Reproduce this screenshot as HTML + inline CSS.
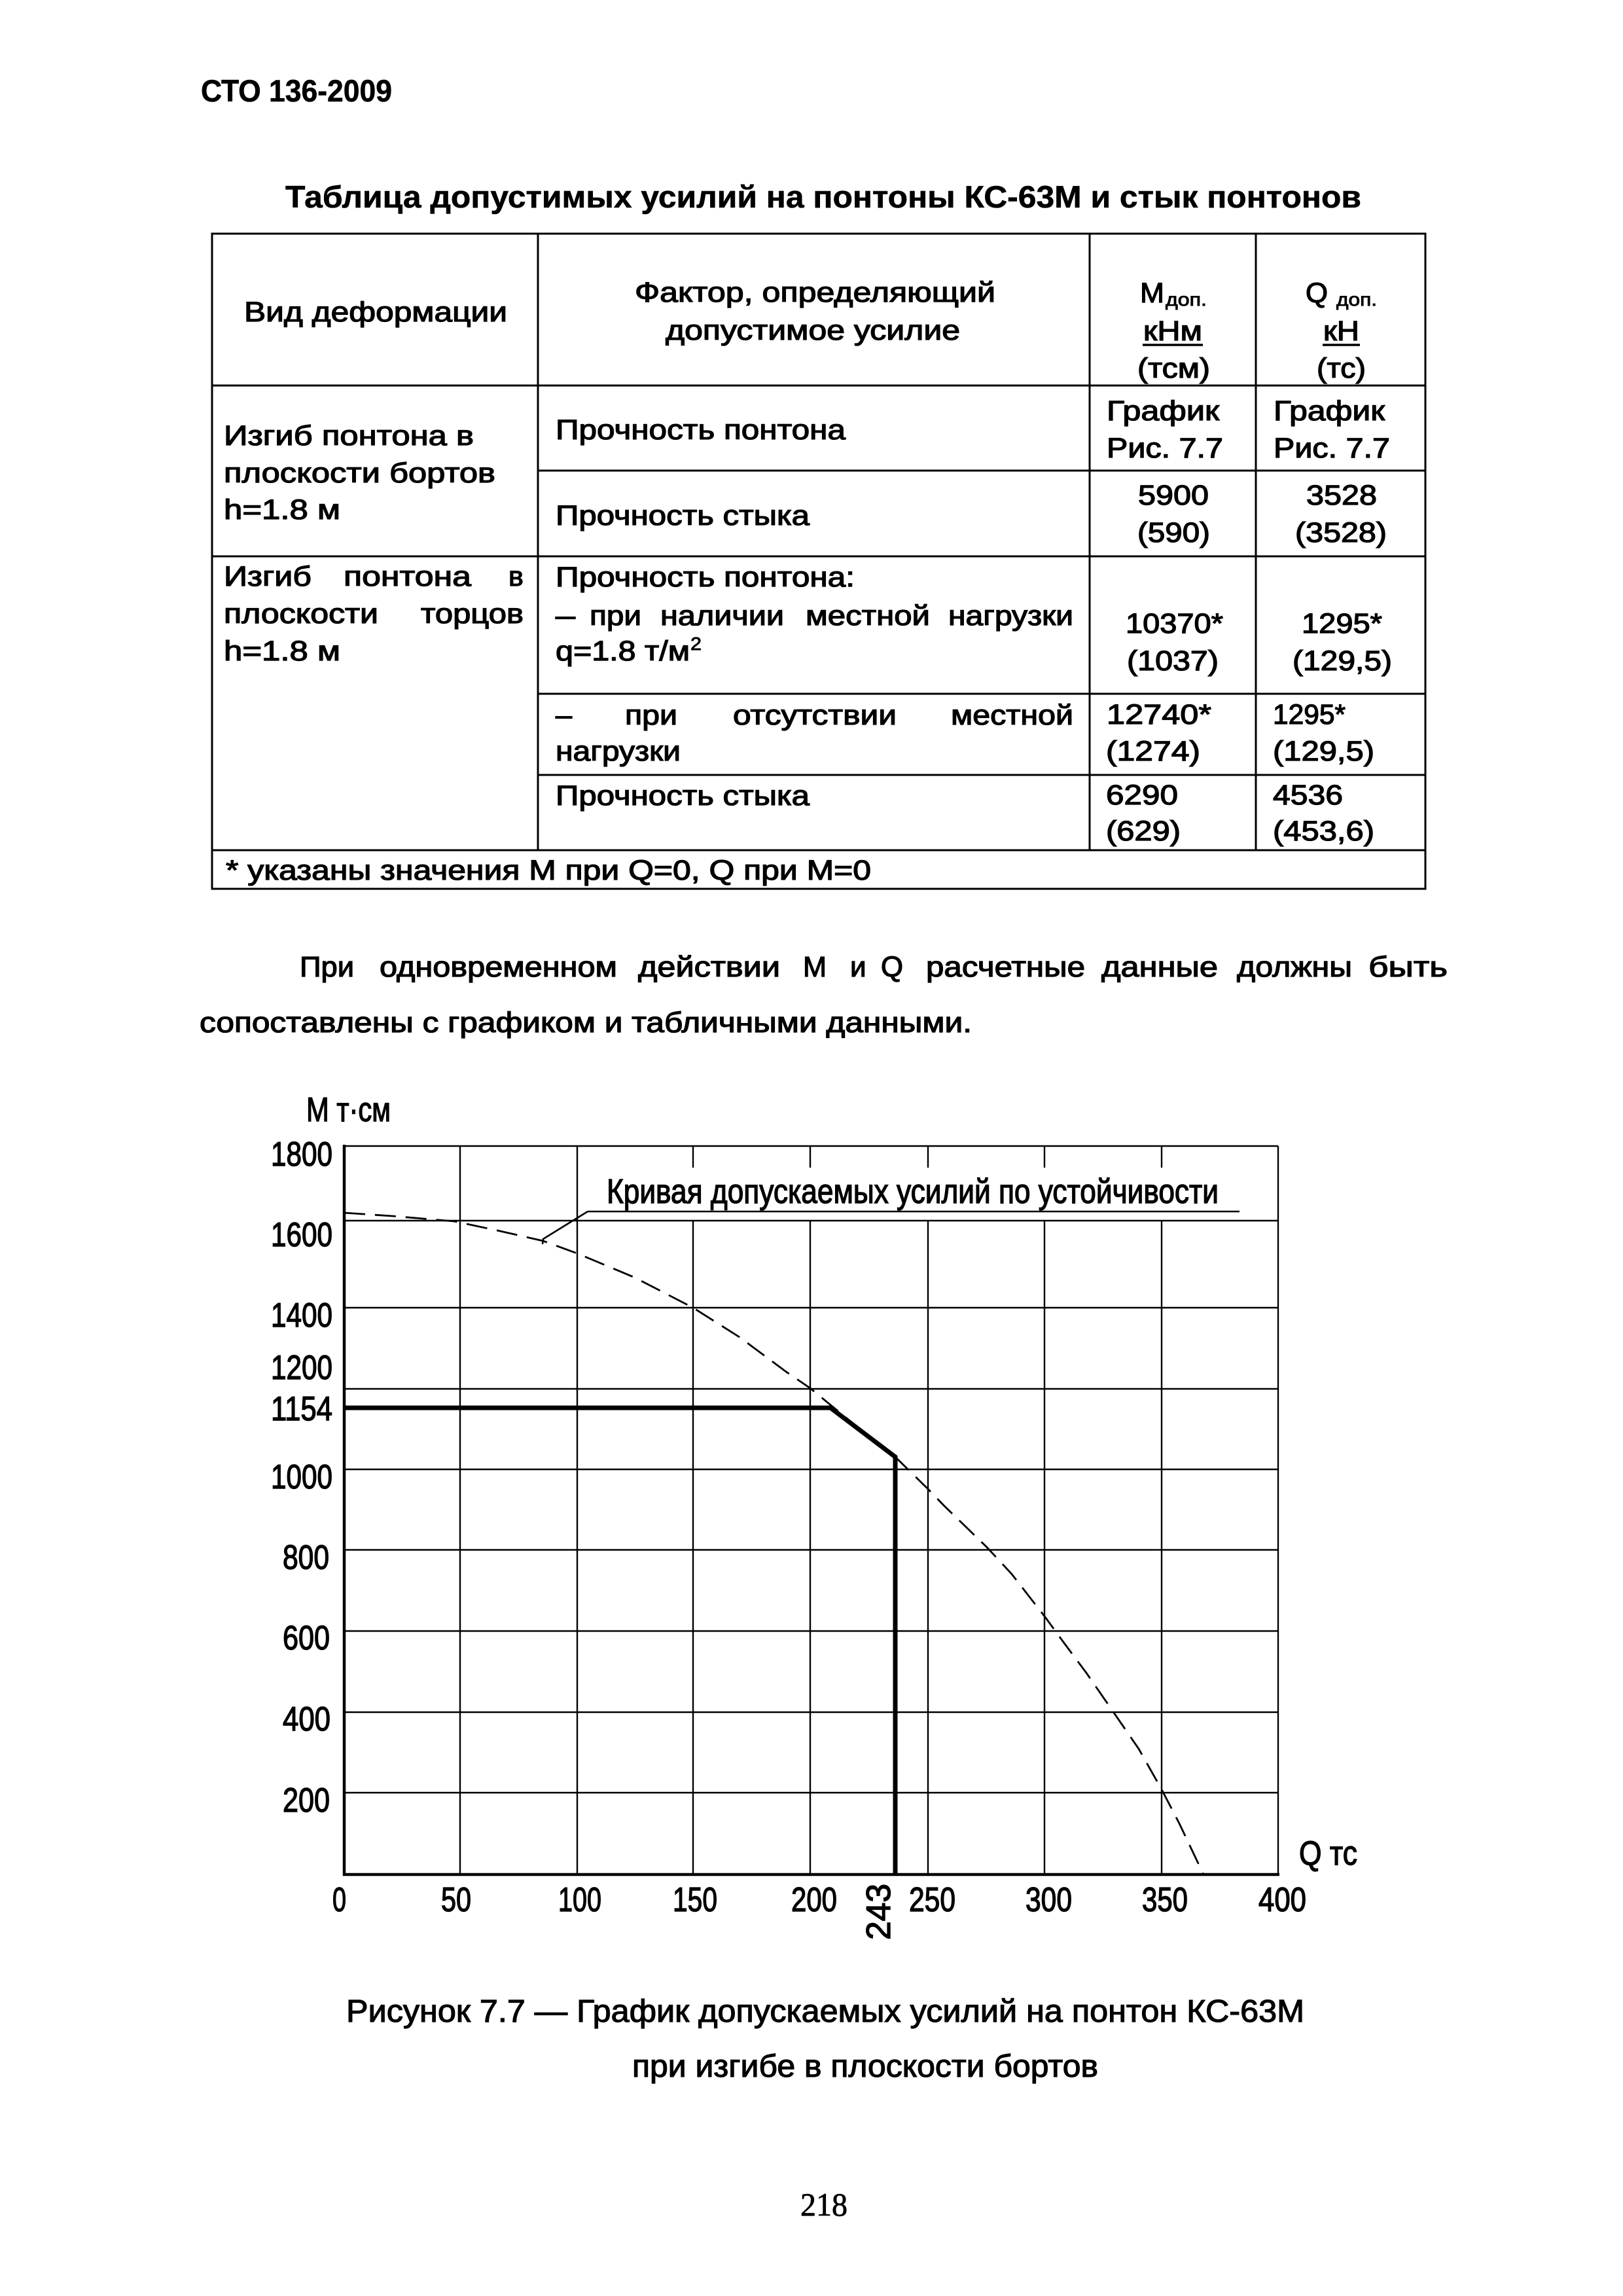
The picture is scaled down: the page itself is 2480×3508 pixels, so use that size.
<!DOCTYPE html>
<html>
<head>
<meta charset="utf-8">
<style>
html,body{margin:0;padding:0;background:#fff;}
svg{display:block;}
text{font-family:"Liberation Sans",Arial,sans-serif;fill:#000;}
.b{font-weight:bold;font-size:47px;stroke:#000;stroke-width:0.6px;}
.t{font-size:43px;stroke:#000;stroke-width:1.3px;}
.s{font-size:28px;stroke:#000;stroke-width:0.9px;}
.sup{font-size:28px;stroke:#000;stroke-width:0.9px;}
.p{font-size:44px;stroke:#000;stroke-width:1.3px;}
.c{font-size:52px;stroke:#000;stroke-width:1.4px;}
.cap{font-size:48px;stroke:#000;stroke-width:1.2px;}
.pg{font-family:"Liberation Serif","Times New Roman",serif;font-size:50px;stroke:#000;stroke-width:0.8px;}
</style>
</head>
<body>
<svg xmlns="http://www.w3.org/2000/svg" width="2480" height="3508" viewBox="0 0 2480 3508">
<rect x="0" y="0" width="2480" height="3508" fill="#fff"/>

<!-- Header -->
<text class="b" x="307" y="155" textLength="292" lengthAdjust="spacingAndGlyphs">СТО 136-2009</text>
<text class="b" x="436" y="317" textLength="1644" lengthAdjust="spacingAndGlyphs">Таблица допустимых усилий на понтоны КС-63М и стык понтонов</text>

<!-- Table lines -->
<g stroke="#000" stroke-width="3" fill="none">
  <rect x="324" y="357" width="1854" height="1001"/>
  <line x1="822" y1="357" x2="822" y2="1299"/>
  <line x1="1665" y1="357" x2="1665" y2="1299"/>
  <line x1="1919" y1="357" x2="1919" y2="1299"/>
  <line x1="324" y1="589" x2="2178" y2="589"/>
  <line x1="822" y1="719" x2="2178" y2="719"/>
  <line x1="324" y1="850" x2="2178" y2="850"/>
  <line x1="822" y1="1060" x2="2178" y2="1060"/>
  <line x1="822" y1="1184" x2="2178" y2="1184"/>
  <line x1="324" y1="1299" x2="2178" y2="1299"/>
</g>

<!-- Table header text -->
<text class="t" x="373" y="491" textLength="402" lengthAdjust="spacingAndGlyphs">Вид деформации</text>
<text class="t" x="970" y="461" textLength="551" lengthAdjust="spacingAndGlyphs">Фактор, определяющий</text>
<text class="t" x="1017" y="519" textLength="450" lengthAdjust="spacingAndGlyphs">допустимое усилие</text>

<text class="t" x="1742" y="462" textLength="37" lengthAdjust="spacingAndGlyphs">М</text>
<text class="s" x="1781" y="467" textLength="63" lengthAdjust="spacingAndGlyphs">доп.</text>
<text class="t" x="1747" y="520" textLength="90" lengthAdjust="spacingAndGlyphs">кНм</text>
<line x1="1746" y1="527" x2="1838" y2="527" stroke="#000" stroke-width="3.5"/>
<text class="t" x="1738" y="577" textLength="111" lengthAdjust="spacingAndGlyphs">(тсм)</text>

<text class="t" x="1995" y="462" textLength="34" lengthAdjust="spacingAndGlyphs">Q</text>
<text class="s" x="2042" y="467" textLength="62" lengthAdjust="spacingAndGlyphs">доп.</text>
<text class="t" x="2022" y="520" textLength="55" lengthAdjust="spacingAndGlyphs">кН</text>
<line x1="2021" y1="527" x2="2078" y2="527" stroke="#000" stroke-width="3.5"/>
<text class="t" x="2012" y="577" textLength="75" lengthAdjust="spacingAndGlyphs">(тс)</text>

<!-- Row 1 col1 -->
<text class="t" x="342" y="680" textLength="382" lengthAdjust="spacingAndGlyphs">Изгиб понтона в</text>
<text class="t" x="342" y="737" textLength="415" lengthAdjust="spacingAndGlyphs">плоскости бортов</text>
<text class="t" x="342" y="793" textLength="178" lengthAdjust="spacingAndGlyphs">h=1.8 м</text>

<!-- Row 1a -->
<text class="t" x="849" y="671" textLength="443" lengthAdjust="spacingAndGlyphs">Прочность понтона</text>
<text class="t" x="1691" y="642" textLength="172" lengthAdjust="spacingAndGlyphs">График</text>
<text class="t" x="1691" y="699" textLength="178" lengthAdjust="spacingAndGlyphs">Рис. 7.7</text>
<text class="t" x="1946" y="642" textLength="170" lengthAdjust="spacingAndGlyphs">График</text>
<text class="t" x="1946" y="699" textLength="178" lengthAdjust="spacingAndGlyphs">Рис. 7.7</text>

<!-- Row 1b -->
<text class="t" x="849" y="802" textLength="388" lengthAdjust="spacingAndGlyphs">Прочность стыка</text>
<text class="t" x="1739" y="771" textLength="108" lengthAdjust="spacingAndGlyphs">5900</text>
<text class="t" x="1738" y="828" textLength="111" lengthAdjust="spacingAndGlyphs">(590)</text>
<text class="t" x="1996" y="771" textLength="108" lengthAdjust="spacingAndGlyphs">3528</text>
<text class="t" x="1979" y="828" textLength="140" lengthAdjust="spacingAndGlyphs">(3528)</text>

<!-- Row 2 col1 -->
<text class="t" x="342" y="895" textLength="134" lengthAdjust="spacingAndGlyphs">Изгиб</text>
<text class="t" x="525" y="895" textLength="195" lengthAdjust="spacingAndGlyphs">понтона</text>
<text class="t" x="777" y="895">в</text>
<text class="t" x="342" y="952" textLength="236" lengthAdjust="spacingAndGlyphs">плоскости</text>
<text class="t" x="643" y="952" textLength="157" lengthAdjust="spacingAndGlyphs">торцов</text>
<text class="t" x="342" y="1009" textLength="178" lengthAdjust="spacingAndGlyphs">h=1.8 м</text>

<!-- Row 2a col2 -->
<text class="t" x="849" y="896" textLength="457" lengthAdjust="spacingAndGlyphs">Прочность понтона:</text>
<text class="t" x="849" y="955" textLength="30" lengthAdjust="spacingAndGlyphs">–</text>
<text class="t" x="901" y="955" textLength="79" lengthAdjust="spacingAndGlyphs">при</text>
<text class="t" x="1009" y="955" textLength="189" lengthAdjust="spacingAndGlyphs">наличии</text>
<text class="t" x="1231" y="955" textLength="190" lengthAdjust="spacingAndGlyphs">местной</text>
<text class="t" x="1449" y="955" textLength="191" lengthAdjust="spacingAndGlyphs">нагрузки</text>
<text class="t" x="849" y="1009" textLength="205" lengthAdjust="spacingAndGlyphs">q=1.8 т/м</text>
<text class="sup" x="1055" y="993" textLength="17" lengthAdjust="spacingAndGlyphs">2</text>

<text class="t" x="1720" y="967" textLength="149" lengthAdjust="spacingAndGlyphs">10370*</text>
<text class="t" x="1722" y="1024" textLength="140" lengthAdjust="spacingAndGlyphs">(1037)</text>
<text class="t" x="1989" y="967" textLength="123" lengthAdjust="spacingAndGlyphs">1295*</text>
<text class="t" x="1975" y="1024" textLength="152" lengthAdjust="spacingAndGlyphs">(129,5)</text>

<!-- Row 2b -->
<text class="t" x="849" y="1107" textLength="25" lengthAdjust="spacingAndGlyphs">–</text>
<text class="t" x="955" y="1107" textLength="80" lengthAdjust="spacingAndGlyphs">при</text>
<text class="t" x="1120" y="1107" textLength="250" lengthAdjust="spacingAndGlyphs">отсутствии</text>
<text class="t" x="1453" y="1107" textLength="187" lengthAdjust="spacingAndGlyphs">местной</text>
<text class="t" x="849" y="1162" textLength="191" lengthAdjust="spacingAndGlyphs">нагрузки</text>

<text class="t" x="1691" y="1106" textLength="160" lengthAdjust="spacingAndGlyphs">12740*</text>
<text class="t" x="1690" y="1162" textLength="144" lengthAdjust="spacingAndGlyphs">(1274)</text>
<text class="t" x="1945" y="1106" textLength="111" lengthAdjust="spacingAndGlyphs">1295*</text>
<text class="t" x="1945" y="1162" textLength="155" lengthAdjust="spacingAndGlyphs">(129,5)</text>

<!-- Row 2c -->
<text class="t" x="849" y="1230" textLength="388" lengthAdjust="spacingAndGlyphs">Прочность стыка</text>
<text class="t" x="1690" y="1229" textLength="110" lengthAdjust="spacingAndGlyphs">6290</text>
<text class="t" x="1690" y="1284" textLength="114" lengthAdjust="spacingAndGlyphs">(629)</text>
<text class="t" x="1945" y="1229" textLength="107" lengthAdjust="spacingAndGlyphs">4536</text>
<text class="t" x="1945" y="1284" textLength="155" lengthAdjust="spacingAndGlyphs">(453,6)</text>

<!-- Footnote -->
<text class="t" x="345" y="1344" textLength="986" lengthAdjust="spacingAndGlyphs">* указаны значения М при Q=0, Q при М=0</text>

<!-- Paragraph -->
<text class="p" x="458" y="1492" textLength="83" lengthAdjust="spacingAndGlyphs">При</text>
<text class="p" x="580" y="1492" textLength="363" lengthAdjust="spacingAndGlyphs">одновременном</text>
<text class="p" x="975" y="1492" textLength="217" lengthAdjust="spacingAndGlyphs">действии</text>
<text class="p" x="1227" y="1492" textLength="36" lengthAdjust="spacingAndGlyphs">М</text>
<text class="p" x="1299" y="1492">и</text>
<text class="p" x="1346" y="1492" textLength="34" lengthAdjust="spacingAndGlyphs">Q</text>
<text class="p" x="1415" y="1492" textLength="243" lengthAdjust="spacingAndGlyphs">расчетные</text>
<text class="p" x="1683" y="1492" textLength="178" lengthAdjust="spacingAndGlyphs">данные</text>
<text class="p" x="1890" y="1492" textLength="176" lengthAdjust="spacingAndGlyphs">должны</text>
<text class="p" x="2091" y="1492" textLength="121" lengthAdjust="spacingAndGlyphs">быть</text>
<text class="p" x="305" y="1577" textLength="1180" lengthAdjust="spacingAndGlyphs">сопоставлены с графиком и табличными данными.</text>

<!-- Chart -->
<text class="c" x="468" y="1713" textLength="129" lengthAdjust="spacingAndGlyphs">М т·см</text>

<g stroke="#000" stroke-width="2.4" fill="none">
  <line x1="526" y1="1751" x2="1953" y2="1751"/>
  <line x1="526" y1="1865" x2="1953" y2="1865"/>
  <line x1="526" y1="1998" x2="1953" y2="1998"/>
  <line x1="526" y1="2122" x2="1953" y2="2122"/>
  <line x1="526" y1="2245" x2="1953" y2="2245"/>
  <line x1="526" y1="2368" x2="1953" y2="2368"/>
  <line x1="526" y1="2492" x2="1953" y2="2492"/>
  <line x1="526" y1="2616" x2="1953" y2="2616"/>
  <line x1="526" y1="2739" x2="1953" y2="2739"/>

  <line x1="703" y1="1751" x2="703" y2="2864"/>
  <line x1="882" y1="1751" x2="882" y2="2864"/>
  <line x1="1059" y1="1751" x2="1059" y2="1784"/>
  <line x1="1059" y1="1865" x2="1059" y2="2864"/>
  <line x1="1238" y1="1751" x2="1238" y2="1784"/>
  <line x1="1238" y1="1865" x2="1238" y2="2864"/>
  <line x1="1418" y1="1751" x2="1418" y2="1784"/>
  <line x1="1418" y1="1865" x2="1418" y2="2864"/>
  <line x1="1596" y1="1751" x2="1596" y2="1784"/>
  <line x1="1596" y1="1865" x2="1596" y2="2864"/>
  <line x1="1775" y1="1751" x2="1775" y2="1784"/>
  <line x1="1775" y1="1865" x2="1775" y2="2864"/>
  <line x1="1953" y1="1751" x2="1953" y2="2864"/>
</g>

<!-- Axes -->
<g stroke="#000" stroke-width="4.5" fill="none">
  <line x1="526" y1="1749" x2="526" y2="2866"/>
  <line x1="524" y1="2864" x2="1955" y2="2864"/>
</g>

<!-- Dashed stability curve -->
<polyline fill="none" stroke="#000" stroke-width="2.8" stroke-dasharray="32 15"
 points="526,1853 600,1858 694,1866 760,1880 830,1896 882,1915 970,1952 1059,1998 1130,2043 1200,2095 1238,2121 1300,2172 1368,2226 1418,2275 1442,2300 1507,2363 1546,2405 1598,2472 1625,2509 1660,2556 1698,2611 1740,2672 1775,2734 1802,2786 1839,2864"/>

<!-- Thick allowed-force line -->
<polyline fill="none" stroke="#000" stroke-width="7" stroke-linejoin="miter"
 points="526,2151 1269,2151 1368,2226 1368,2864"/>

<!-- Leader and label -->
<g stroke="#000" stroke-width="2.6" fill="none">
  <line x1="898" y1="1851" x2="1894" y2="1851"/>
  <polyline points="898,1851 830,1893 829,1901"/>
</g>
<text class="c" x="927" y="1838" font-size="53" textLength="935" lengthAdjust="spacingAndGlyphs">Кривая допускаемых усилий по устойчивости</text>

<!-- Y labels -->
<text class="c" x="414" y="1781" textLength="94" lengthAdjust="spacingAndGlyphs">1800</text>
<text class="c" x="414" y="1904" textLength="94" lengthAdjust="spacingAndGlyphs">1600</text>
<text class="c" x="414" y="2027" textLength="94" lengthAdjust="spacingAndGlyphs">1400</text>
<text class="c" x="414" y="2107" textLength="94" lengthAdjust="spacingAndGlyphs">1200</text>
<text class="c" x="414" y="2170" textLength="94" lengthAdjust="spacingAndGlyphs">1154</text>
<text class="c" x="414" y="2274" textLength="94" lengthAdjust="spacingAndGlyphs">1000</text>
<text class="c" x="432" y="2397" textLength="71" lengthAdjust="spacingAndGlyphs">800</text>
<text class="c" x="432" y="2520" textLength="72" lengthAdjust="spacingAndGlyphs">600</text>
<text class="c" x="432" y="2644" textLength="73" lengthAdjust="spacingAndGlyphs">400</text>
<text class="c" x="432" y="2768" textLength="72" lengthAdjust="spacingAndGlyphs">200</text>

<!-- X labels -->
<text class="c" x="508" y="2920" textLength="21" lengthAdjust="spacingAndGlyphs">0</text>
<text class="c" x="674" y="2920" textLength="46" lengthAdjust="spacingAndGlyphs">50</text>
<text class="c" x="853" y="2920" textLength="66" lengthAdjust="spacingAndGlyphs">100</text>
<text class="c" x="1028" y="2920" textLength="68" lengthAdjust="spacingAndGlyphs">150</text>
<text class="c" x="1209" y="2920" textLength="70" lengthAdjust="spacingAndGlyphs">200</text>
<text class="c" x="1389" y="2920" textLength="71" lengthAdjust="spacingAndGlyphs">250</text>
<text class="c" x="1567" y="2920" textLength="71" lengthAdjust="spacingAndGlyphs">300</text>
<text class="c" x="1745" y="2920" textLength="70" lengthAdjust="spacingAndGlyphs">350</text>
<text class="c" x="1923" y="2920" textLength="73" lengthAdjust="spacingAndGlyphs">400</text>
<text class="c" transform="translate(1360,2964) rotate(-90)" x="0" y="0" textLength="86" lengthAdjust="spacingAndGlyphs">243</text>
<text class="c" x="1985" y="2849" font-size="50" textLength="89" lengthAdjust="spacingAndGlyphs">Q тс</text>

<!-- Caption -->
<text class="cap" x="529" y="3089" textLength="1464" lengthAdjust="spacingAndGlyphs">Рисунок 7.7 — График допускаемых усилий на понтон КС-63М</text>
<text class="cap" x="966" y="3173" textLength="712" lengthAdjust="spacingAndGlyphs">при изгибе в плоскости бортов</text>

<!-- Page number -->
<text class="pg" x="1223" y="3385" textLength="72" lengthAdjust="spacingAndGlyphs">218</text>
</svg>
</body>
</html>
